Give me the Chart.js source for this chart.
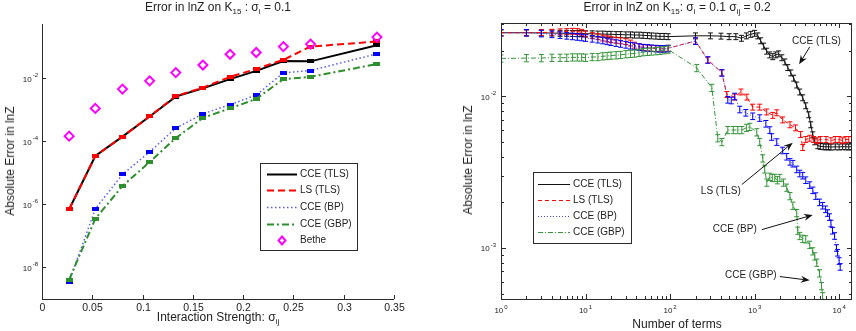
<!DOCTYPE html>
<html lang="en">
<head>
<meta charset="UTF-8">
<title>Error in lnZ on K15</title>
<script src="https://cdn.jsdelivr.net/npm/chart.js@4"></script>
<style>
  body { margin: 0; background: #fff; font-family: "Liberation Sans", Arial, sans-serif; color: #222; }
  #wrap { position: relative; width: 856px; height: 331px; overflow: hidden; }
  canvas { position: absolute; top: 0; }
  #cLeft { left: 0; }
  #cRight { left: 440px; }
  .lbl { position: absolute; font-size: 12px; white-space: nowrap; line-height: 14px; transform: translateX(-50%); }
  .lbl sub { font-size: 8px; vertical-align: -3px; line-height: 0; }
  .ylbl { position: absolute; font-size: 12px; white-space: nowrap; line-height: 14px; transform: translate(-50%, -50%) rotate(-90deg); }
</style>
</head>
<body>
<div id="wrap">
  <canvas id="cLeft" width="440" height="331"></canvas>
  <canvas id="cRight" width="416" height="331"></canvas>
  <div class="lbl" style="left:218px;top:0px">Error in lnZ on K<sub>15</sub> : σ<sub>i</sub> = 0.1</div>
  <div class="lbl" style="left:677px;top:0px">Error in lnZ on K<sub>15</sub>: σ<sub>i</sub> = 0.1 σ<sub>ij</sub> = 0.2</div>
  <div class="lbl" style="left:218px;top:310px">Interaction Strength: σ<sub>ij</sub></div>
  <div class="lbl" style="left:677px;top:317px">Number of terms</div>
  <div class="ylbl" style="left:10px;top:161px">Absolute Error in lnZ</div>
  <div class="ylbl" style="left:468px;top:160px">Absolute Error in lnZ</div>
</div>
<script>
const FONT = '"Liberation Sans", Arial, Helvetica, sans-serif';
const AXIS = '#2a2a2a';

// series colours (left panel, right panel)
const leftColors  = ['#000000', '#ff0000', '#5a5aff', '#2e8f2e', '#ff00ff'];
const rightColors = ['#111111', '#ff0000', '#4646ff', '#35953a'];

// ---- left panel: error against interaction strength ----
const sigmaIJ    = [0.027, 0.053, 0.08, 0.107, 0.133, 0.16, 0.187, 0.213, 0.24, 0.267, 0.333];
const leftCceTLS = [7e-7, 3.4e-5, 1.4e-4, 6.1e-4, 2.6e-3, 4.8e-3, 9.3e-3, 1.7e-2, 3.5e-2, 3.4e-2, 0.11];
const leftLsTLS  = [7e-7, 3.4e-5, 1.4e-4, 6.1e-4, 2.7e-3, 5.0e-3, 1.1e-2, 1.96e-2, 3.8e-2, 0.1, 0.145];
const leftCceBP  = [3.5e-9, 7.2e-7, 8.9e-6, 4.6e-5, 2.6e-4, 7.4e-4, 1.44e-3, 2.9e-3, 1.47e-2, 1.74e-2, 5.9e-2];
const leftCceGBP = [4.1e-9, 3.5e-7, 3.8e-6, 2.2e-5, 1.26e-4, 5.5e-4, 1.1e-3, 2.2e-3, 9.3e-3, 1.1e-2, 2.8e-2];
const leftBethe  = [1.45e-4, 1.1e-3, 4.5e-3, 8.2e-3, 1.5e-2, 2.6e-2, 5.7e-2, 6.5e-2, 0.1, 0.12, 0.2];

const leftXTicks  = [0, 0.05, 0.1, 0.15, 0.2, 0.25, 0.3, 0.35];
const leftXLabels = ['0', '0.05', '0.1', '0.15', '0.2', '0.25', '0.3', '0.35'];
const leftYExp    = [-8, -6, -4, -2];

// ---- right panel: error against number of terms ----
const tlsTerms = [1,2,3,4,5,6,7,8,9,10,12,14,16,18,20,23,26,30,34,38,43,48,54,60,68,76,85,95,
  200,300,400,500,600,700,800,900,1000,1090,1180,1280,1390,1510,1640,1780,1930,2100,2280,2470,2680,2900,
  3150,3420,3710,4030,4370,4620,4880,5150,5600,6000,6500,7000,7500,8000,9000,10000,11000,12000,13000,14000];
const tlsErr = [0.0263,0.0263,0.0262,0.0262,0.0261,0.0261,0.026,0.026,0.026,0.0259,
  0.0259,0.0258,0.0258,0.0257,0.0257,0.0256,0.0256,0.0255,0.0255,0.0254,0.0254,0.0253,0.0252,0.0251,0.025,0.0249,0.0249,0.0248,
  0.0251,0.0251,0.025,0.0248,0.0248,0.0242,0.0251,0.0257,0.0261,
  0.0251,0.0233,0.0215,0.0199,0.0188,0.0183,0.0188,0.0191,0.018,0.0169,0.0155,0.0143,0.0132,0.0119,0.0107,0.0098,0.00868,0.00757,0.0065,0.00558,0.00502,
  0.00473,0.00468,0.00466,0.00464,0.00466,0.00463,0.00465,0.00464,0.00466,0.00465,0.00464,0.00466];

const lsTerms = [1,2,3,4,5,6,7,8,9,10,12,14,16,18,20,23,26,30,34,38,43,48,54,60,68,76,85,95,
  200,280,410,470,580,690,810,950,1150,1390,1640,1830,2150,2620,3050,3500,3710,4030,4490,
  5000,5500,6000,7000,8000,9000,10000,11000,12000,13000,14000];
const lsErr = [0.0263,0.0263,0.0264,0.0265,0.0267,0.0268,0.0269,0.0268,0.0265,0.0258,
  0.0252,0.0248,0.0243,0.024,0.0237,0.0235,0.0233,0.023,0.0225,0.0218,0.0213,0.021,0.0209,0.0208,0.0207,0.0206,0.0206,0.0208,
  0.0232,0.0174,0.0143,0.0103,0.0099,0.0107,0.0099,0.0085,0.0085,0.0079,0.0075,0.0078,0.007,0.0065,0.0062,0.0056,0.0046,0.0052,0.0053,
  0.0052,0.0051,0.0052,0.0052,0.0051,0.0052,0.0052,0.0051,0.0052,0.0052,0.0052];

const bpTerms = [1,2,3,4,5,6,7,8,9,10,12,14,16,18,20,23,26,30,34,38,43,48,54,60,68,76,85,95,
  200,280,410,482,530,583,668,787,950,1150,1360,1513,1590,1830,2150,2400,2620,2840,3150,3420,3710,4030,
  4490,4880,5290,5870,6380,6920,7300,7700,8000,8360,8840,9300,9590,10000,10300];
const bpErr = [0.0263,0.0263,0.026,0.0257,0.0254,0.0251,0.0249,0.0247,0.0245,0.0243,
  0.024,0.0237,0.0234,0.0231,0.0228,0.0225,0.0222,0.0219,0.0216,0.0214,0.0212,0.021,0.0209,0.0208,0.0207,0.0206,0.0206,0.0207,
  0.0232,0.0174,0.0143,0.0095,0.0094,0.01,0.0082,0.0078,0.0074,0.0072,0.0066,0.006,0.0054,0.005,0.0044,0.004,0.0037,0.0036,0.0033,0.0031,0.003,0.0028,
  0.0026,0.0024,0.0022,0.002,0.0019,0.0018,0.0017,0.0016,0.00145,0.0013,0.0012,0.001,0.00093,0.00082,0.00075];

const gbpTerms = [1,2,3,4,5,6,7,8,9,10,12,14,16,18,20,23,26,30,34,38,43,48,54,60,68,76,85,95,
  207,312,367,410,482,560,633,706,800,877,1062,1150,1250,1317,1394,1513,1620,1735,1860,1990,2200,2400,2620,2840,
  3150,3240,3420,3710,4030,4490,4880,5150,5440,5870,6200,6380,6760];
const gbpErr = [0.0178,0.0179,0.0179,0.018,0.018,0.018,0.0181,0.0181,0.0181,0.018,
  0.0182,0.0182,0.0184,0.0185,0.0186,0.0187,0.0188,0.019,0.0191,0.0192,0.0194,0.0196,0.0197,0.0198,0.0199,0.02,0.0202,0.0204,
  0.0154,0.0114,0.0053,0.005,0.006,0.006,0.006,0.006,0.0062,0.0063,0.0058,0.005,0.0039,0.0033,0.0027,0.00295,0.0029,0.0029,0.0028,0.0029,0.0027,0.0025,0.0022,0.0019,
  0.0017,0.0013,0.0012,0.00115,0.00114,0.00105,0.00095,0.00088,0.0008,0.00068,0.00056,0.00048,0.00042];

// relative half-height of the error bars, one per series
const errFrac = [0.045, 0.045, 0.05, 0.055];

const rightXExp = [0, 1, 2, 3, 4];
const rightYExp = [-3, -2];

// arrow labels on the right panel, in data units
const noteText = ['CCE (TLS)', 'LS (TLS)', 'CCE (BP)', 'CCE (GBP)'];
const noteAt   = [[5390, 0.0230], [399, 0.00237], [583, 0.00133], [902, 0.000657]];
const noteFrom = [[4490, 0.0212], [706, 0.00262], [1217, 0.00132], [1986, 0.000647]];
const noteTo   = [[3360, 0.0163], [2830, 0.00495], [4876, 0.00165], [4490, 0.000611]];

function pairs(xs, ys) { return xs.map((x, i) => ({ x: x, y: ys[i] })); }

function rectMark(color) {
  const c = document.createElement('canvas');
  c.width = 7; c.height = 4;
  const g = c.getContext('2d');
  g.fillStyle = color;
  g.fillRect(0, 0, 7, 4);
  return c;
}

// "10" with a raised exponent
function drawPow(ctx, exp, x, y, align) {
  ctx.font = '8px ' + FONT;
  const wb = ctx.measureText('10').width;
  ctx.font = '6px ' + FONT;
  const we = ctx.measureText(String(exp)).width;
  const x0 = align === 'right' ? x - wb - we - 1 : x - (wb + we + 1) / 2;
  ctx.fillStyle = '#222';
  ctx.textAlign = 'left';
  ctx.textBaseline = 'middle';
  ctx.font = '8px ' + FONT;
  ctx.fillText('10', x0, y);
  ctx.font = '6px ' + FONT;
  ctx.fillText(String(exp), x0 + wb + 1, y - 4);
}

function line(ctx, x1, y1, x2, y2) {
  ctx.beginPath(); ctx.moveTo(x1, y1); ctx.lineTo(x2, y2); ctx.stroke();
}

function drawLegend(ctx, box, items) {
  ctx.save();
  ctx.setLineDash([]);
  ctx.fillStyle = '#fff';
  ctx.fillRect(box.x, box.y, box.w, box.h);
  ctx.strokeStyle = AXIS; ctx.lineWidth = 1;
  ctx.strokeRect(box.x + 0.5, box.y + 0.5, box.w, box.h);
  items.forEach((it, i) => {
    const y = Math.round(box.y + box.first + i * box.step) + 0.5;
    if (it.diamond) {
      const cx = (box.l0 + box.l1) / 2;
      ctx.strokeStyle = it.color; ctx.lineWidth = 2; ctx.setLineDash([]);
      ctx.beginPath();
      ctx.moveTo(cx, y - 4); ctx.lineTo(cx + 3.5, y); ctx.lineTo(cx, y + 4); ctx.lineTo(cx - 3.5, y); ctx.closePath();
      ctx.stroke();
    } else {
      ctx.strokeStyle = it.color; ctx.lineWidth = it.width; ctx.setLineDash(it.dash);
      line(ctx, box.l0, y, box.l1, y);
      ctx.setLineDash([]);
    }
    ctx.fillStyle = '#222';
    ctx.font = '10px ' + FONT;
    ctx.textAlign = 'left'; ctx.textBaseline = 'middle';
    ctx.fillText(it.label, box.tx, y);
  });
  ctx.restore();
}

function legendItems(chart, colors) {
  return chart.data.datasets.map((ds, i) => ({
    label: ds.label, color: colors[i], width: ds.borderWidth || 1,
    dash: ds.borderDash || [], diamond: ds.showLine === false
  }));
}

const leftDecor = {
  id: 'leftDecor',
  afterDraw(chart) {
    const { ctx, chartArea: a, scales: { x, y } } = chart;
    ctx.save();
    ctx.strokeStyle = AXIS; ctx.lineWidth = 1;
    line(ctx, a.left + 0.5, a.top, a.left + 0.5, a.bottom + 0.5);
    line(ctx, a.left, a.bottom + 0.5, a.right, a.bottom + 0.5);
    leftXTicks.forEach((v, i) => {
      const px = Math.round(x.getPixelForValue(v)) + 0.5;
      ctx.strokeStyle = AXIS;
      line(ctx, px, a.bottom, px, a.bottom - 4);
      ctx.font = '10.5px ' + FONT; ctx.fillStyle = '#222';
      ctx.textAlign = 'center'; ctx.textBaseline = 'middle';
      ctx.fillText(leftXLabels[i], px, a.bottom + 9);
    });
    leftYExp.forEach(e => {
      const py = Math.round(y.getPixelForValue(Math.pow(10, e))) + 0.5;
      ctx.strokeStyle = AXIS;
      line(ctx, a.left, py, a.left + 4, py);
      drawPow(ctx, e, a.left - 4, py + 1, 'right');
    });
    drawLegend(ctx, { x: 260, y: 163, w: 97, h: 87, first: 10.5, step: 16.7, l0: 267, l1: 297, tx: 300 },
      legendItems(chart, leftColors));
    ctx.restore();
  }
};

const errorBars = {
  id: 'errorBars',
  afterDatasetDraw(chart, args) {
    const ds = chart.data.datasets[args.index];
    if (!ds.errFrac) return;
    const { ctx, chartArea: a, scales: { y } } = chart;
    ctx.save();
    ctx.beginPath(); ctx.rect(a.left, a.top, a.right - a.left, a.bottom - a.top); ctx.clip();
    ctx.strokeStyle = ds.barColor || ds.borderColor; ctx.lineWidth = 1; ctx.setLineDash([]);
    ctx.beginPath();
    args.meta.data.forEach((pt, i) => {
      const v = ds.data[i].y;
      const y0 = y.getPixelForValue(v * (1 - ds.errFrac));
      const y1 = y.getPixelForValue(v * (1 + ds.errFrac));
      const px = pt.x;
      ctx.moveTo(px, y0); ctx.lineTo(px, y1);
      ctx.moveTo(px - 2.5, y0); ctx.lineTo(px + 2.5, y0);
      ctx.moveTo(px - 2.5, y1); ctx.lineTo(px + 2.5, y1);
    });
    ctx.stroke();
    ctx.restore();
  }
};

const rightDecor = {
  id: 'rightDecor',
  afterDraw(chart) {
    const { ctx, chartArea: a, scales: { x, y } } = chart;
    ctx.save();
    ctx.strokeStyle = AXIS; ctx.lineWidth = 1;
    ctx.strokeRect(a.left + 0.5, a.top + 0.5, a.right - a.left - 1, a.bottom - a.top);
    // x ticks, major and minor, bottom and top
    for (let e = 0; e <= 4; e++) {
      for (let k = 1; k <= 9; k++) {
        const v = k * Math.pow(10, e);
        if (v > x.max) break;
        const px = Math.round(x.getPixelForValue(v)) + 0.5;
        const len = k === 1 ? 5 : 3;
        ctx.strokeStyle = AXIS;
        line(ctx, px, a.bottom, px, a.bottom - len);
        line(ctx, px, a.top, px, a.top + len);
      }
    }
    rightXExp.forEach(e => {
      drawPow(ctx, e, x.getPixelForValue(Math.pow(10, e)), a.bottom + 12, 'center');
    });
    // y ticks, left and right
    for (let e = -4; e <= -2; e++) {
      for (let k = 1; k <= 9; k++) {
        const v = k * Math.pow(10, e);
        if (v < y.min || v > y.max) continue;
        const py = Math.round(y.getPixelForValue(v)) + 0.5;
        const len = k === 1 ? 5 : 3;
        ctx.strokeStyle = AXIS;
        line(ctx, a.left, py, a.left + len, py);
        line(ctx, a.right, py, a.right - len, py);
      }
    }
    rightYExp.forEach(e => {
      drawPow(ctx, e, a.left - 5, y.getPixelForValue(Math.pow(10, e)) + 1, 'right');
    });
    // arrows with labels
    noteText.forEach((t, i) => {
      const fx = x.getPixelForValue(noteFrom[i][0]), fy = y.getPixelForValue(noteFrom[i][1]);
      const tx = x.getPixelForValue(noteTo[i][0]), ty = y.getPixelForValue(noteTo[i][1]);
      const ang = Math.atan2(ty - fy, tx - fx);
      const c = Math.cos(ang), s = Math.sin(ang);
      ctx.strokeStyle = '#111'; ctx.fillStyle = '#111'; ctx.lineWidth = 1;
      line(ctx, fx, fy, tx - 6 * c, ty - 6 * s);
      ctx.beginPath();
      ctx.moveTo(tx, ty);
      ctx.lineTo(tx - 9 * c + 3.5 * s, ty - 9 * s - 3.5 * c);
      ctx.lineTo(tx - 6 * c, ty - 6 * s);
      ctx.lineTo(tx - 9 * c - 3.5 * s, ty - 9 * s + 3.5 * c);
      ctx.closePath(); ctx.fill();
      ctx.fillStyle = '#222';
      ctx.font = '10px ' + FONT; ctx.textAlign = 'center'; ctx.textBaseline = 'middle';
      ctx.fillText(t, x.getPixelForValue(noteAt[i][0]), y.getPixelForValue(noteAt[i][1]));
    });
    drawLegend(ctx, { x: 93, y: 172, w: 98, h: 71, first: 11.5, step: 16, l0: 98, l1: 130, tx: 133 },
      legendItems(chart, rightColors));
    ctx.restore();
  }
};

function plainScale(type, min, max, fit) {
  return {
    type: type, min: min, max: max,
    grid: { display: false }, border: { display: false },
    ticks: { display: false }, title: { display: false },
    afterFit: fit
  };
}

new Chart(document.getElementById('cLeft'), {
  type: 'line',
  data: {
    datasets: [
      { label: 'CCE (TLS)', data: pairs(sigmaIJ, leftCceTLS), borderColor: leftColors[0], borderWidth: 2,
        pointStyle: rectMark('#000000'), pointRadius: 3, order: 5 },
      { label: 'LS (TLS)', data: pairs(sigmaIJ, leftLsTLS), borderColor: leftColors[1], borderWidth: 2, borderDash: [7, 4],
        pointStyle: rectMark('#ff0000'), pointRadius: 3, order: 4 },
      { label: 'CCE (BP)', data: pairs(sigmaIJ, leftCceBP), borderColor: leftColors[2], borderWidth: 1.5, borderDash: [1.5, 2.5],
        pointStyle: rectMark('#0000ff'), pointRadius: 3, order: 3 },
      { label: 'CCE (GBP)', data: pairs(sigmaIJ, leftCceGBP), borderColor: leftColors[3], borderWidth: 2, borderDash: [7, 3, 2, 3],
        pointStyle: rectMark('#2e8f2e'), pointRadius: 3, order: 2 },
      { label: 'Bethe', data: pairs(sigmaIJ, leftBethe), showLine: false, borderColor: leftColors[4], borderWidth: 2,
        pointStyle: 'rectRot', pointRadius: 4.5, pointBorderWidth: 2, pointBackgroundColor: 'rgba(0,0,0,0)', order: 1 }
    ]
  },
  options: {
    responsive: false, animation: false, devicePixelRatio: 1,
    layout: { padding: { top: 24, right: 46, left: 0, bottom: 0 } },
    plugins: { legend: { display: false }, tooltip: { enabled: false } },
    elements: { line: { tension: 0 } },
    scales: {
      x: plainScale('linear', 0, 0.35, s => { s.height = 32; }),
      y: plainScale('logarithmic', 1e-9, 0.52, s => { s.width = 42; })
    }
  },
  plugins: [leftDecor]
});

new Chart(document.getElementById('cRight'), {
  type: 'line',
  data: {
    datasets: [
      { label: 'CCE (TLS)', data: pairs(tlsTerms, tlsErr), borderColor: rightColors[0], borderWidth: 1,
        errFrac: errFrac[0], pointRadius: 0, order: 4 },
      { label: 'LS (TLS)', data: pairs(lsTerms, lsErr), borderColor: rightColors[1], borderWidth: 1, borderDash: [4, 3],
        errFrac: errFrac[1], pointRadius: 0, order: 3 },
      { label: 'CCE (BP)', data: pairs(bpTerms, bpErr), borderColor: rightColors[2], barColor: '#0000ff', borderWidth: 1, borderDash: [1, 2],
        errFrac: errFrac[2], pointRadius: 0, order: 2 },
      { label: 'CCE (GBP)', data: pairs(gbpTerms, gbpErr), borderColor: rightColors[3], borderWidth: 1, borderDash: [5, 2, 1, 2],
        errFrac: errFrac[3], pointRadius: 0, order: 1 }
    ]
  },
  options: {
    responsive: false, animation: false, devicePixelRatio: 1,
    layout: { padding: { top: 23, right: 4, left: 0, bottom: 0 } },
    plugins: { legend: { display: false }, tooltip: { enabled: false } },
    elements: { line: { tension: 0 } },
    scales: {
      x: plainScale('logarithmic', 1, 14200, s => { s.height = 32; }),
      y: plainScale('logarithmic', 0.00046, 0.0305, s => { s.width = 61; })
    }
  },
  plugins: [errorBars, rightDecor]
});
</script>
</body>
</html>
